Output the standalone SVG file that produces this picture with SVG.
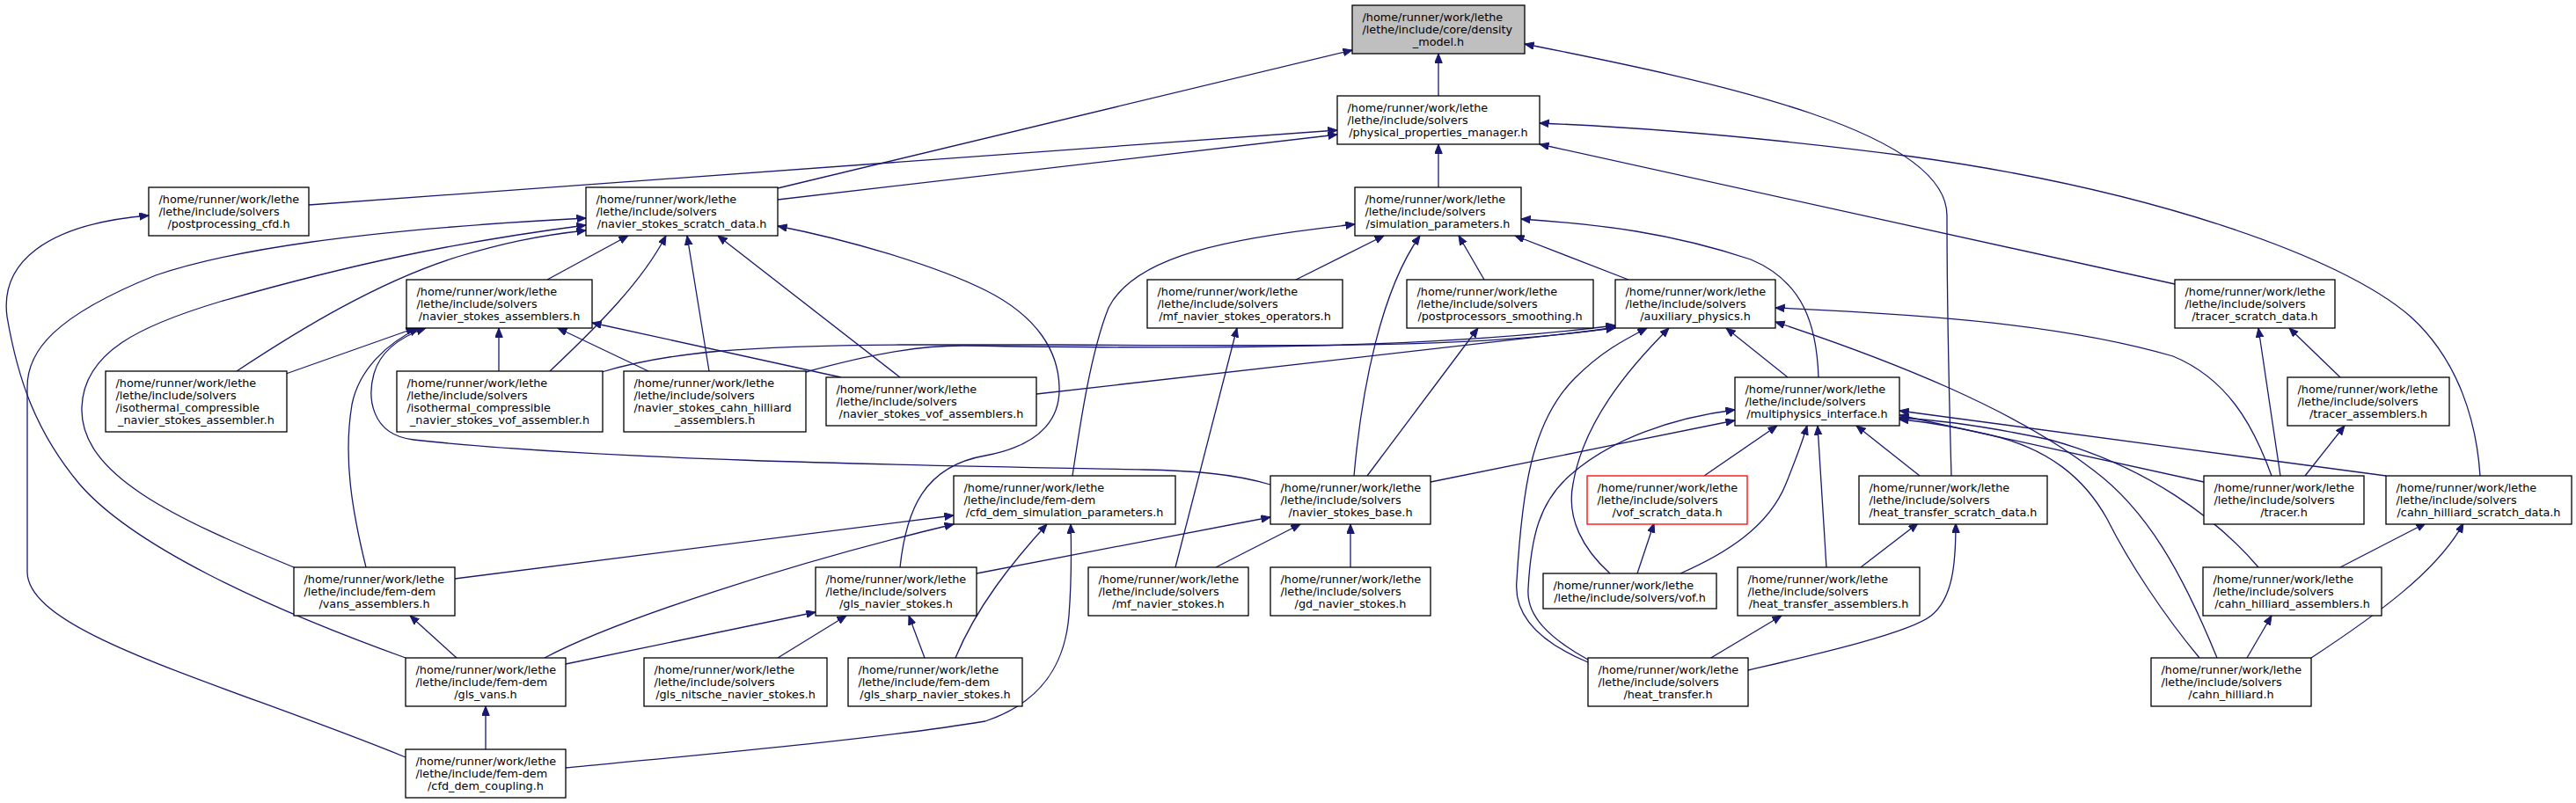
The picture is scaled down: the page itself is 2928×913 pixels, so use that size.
<svg xmlns="http://www.w3.org/2000/svg" width="2928" height="913" viewBox="0 0 2928 913">
<defs>
<style>
.n rect{fill:#fff;stroke:#000;stroke-width:1.3}
.n.root rect{fill:#bfbfbf}
.n.red rect{stroke:#ff0000}
.e path{fill:none;stroke:#191970;stroke-width:1.3;marker-end:url(#a)}
text{font-family:"DejaVu Sans","Liberation Sans",sans-serif;font-size:12.8px;fill:#000}
.c{text-anchor:middle}
</style>
<marker id="a" markerWidth="12" markerHeight="10" refX="10.5" refY="4.25" orient="auto" markerUnits="userSpaceOnUse"><path d="M0,0 L10.5,4.25 L0,8.5 z" fill="#191970" stroke="#191970" stroke-width="1"/></marker>
</defs>
<rect width="2928" height="913" fill="#fff"/>
<g id="edges" class="e">
<path d="M1635,109 L1635,61"/>
<path d="M884,214 L1537,57"/>
<path d="M2218,541 C2216,470 2213,320 2213,245 C2213,150 1960,95 1733,50"/>
<path d="M1635,213 L1635,164"/>
<path d="M351,233 L1520,148"/>
<path d="M884,227 L1520,153"/>
<path d="M2472,323 L1750,164"/>
<path d="M2819,541 C2815,480 2795,410 2740,360 C2660,290 2440,215 2173,178 C2050,162 1900,146 1750,140"/>
<path d="M461,861 C250,775 31,720 31,650 L31,440 C31,400 60,360 177,313 C260,285 400,262 666,248"/>
<path d="M461,748 C300,690 150,620 90,550 C40,490 20,430 8,360 C0,300 50,255 169,245"/>
<path d="M334,645 C200,590 90,540 93,463 C95,400 160,370 250,343 C400,300 520,275 666,256"/>
<path d="M269,422 C340,375 430,320 520,292 C570,277 610,268 666,262"/>
<path d="M622,318 L714,268"/>
<path d="M625,422 C680,370 730,320 757,268"/>
<path d="M806,422 L781,268"/>
<path d="M1023,429 L816,268"/>
<path d="M1023,645 C1030,580 1050,530 1120,518 C1190,505 1205,470 1204,440 C1203,400 1180,360 1120,330 C1060,300 960,272 884,257"/>
<path d="M1444,551 C1400,538 1350,535 1300,534 C1100,530 700,525 470,500 C420,494 418,450 425,425 C432,400 455,383 484,373"/>
<path d="M416,645 C400,580 390,520 400,460 C408,420 440,390 476,373"/>
<path d="M325,425 L472,373"/>
<path d="M567,422 L567,373"/>
<path d="M737,422 L634,373"/>
<path d="M956,429 L673,367"/>
<path d="M684,423 C760,400 850,393 1023,392 L1201,392 C1500,394 1700,395 1836,372"/>
<path d="M916,423 C1000,400 1050,393 1094,393 C1300,396 1600,400 1836,370"/>
<path d="M1178,448 L1836,373"/>
<path d="M1219,541 C1228,480 1240,400 1260,350 C1290,290 1400,270 1540,255"/>
<path d="M1473,318 L1573,268"/>
<path d="M1539,541 C1548,440 1570,330 1614,268"/>
<path d="M1687,318 L1658,268"/>
<path d="M1851,318 L1722,268"/>
<path d="M2067,429 C2065,370 2050,320 1990,295 C1900,265 1820,255 1729,249"/>
<path d="M1336,645 L1406,373"/>
<path d="M1554,541 L1680,373"/>
<path d="M2032,429 L1962,373"/>
<path d="M1805,753 C1750,730 1720,700 1724,660 C1730,560 1740,480 1790,430 C1820,400 1845,387 1872,373"/>
<path d="M1830,652 C1800,625 1780,590 1788,550 C1800,480 1850,420 1897,373"/>
<path d="M1805,750 C1760,725 1735,700 1737,670 C1740,610 1750,570 1785,540 C1830,500 1900,475 1972,466"/>
<path d="M1626,548 L1972,478"/>
<path d="M1937,541 L2020,484"/>
<path d="M1910,652 C1960,630 2010,600 2030,550 C2040,525 2048,505 2054,484"/>
<path d="M2076,645 L2066,484"/>
<path d="M2182,541 L2110,484"/>
<path d="M2712,541 L2159,467"/>
<path d="M2505,548 L2159,472"/>
<path d="M2567,645 C2520,590 2440,530 2330,500 C2260,485 2210,478 2159,475"/>
<path d="M2500,748 C2460,700 2420,640 2395,590 C2370,545 2330,510 2260,494 C2220,485 2190,479 2159,477"/>
<path d="M2520,748 C2480,650 2440,580 2380,535 C2290,465 2150,410 2018,366"/>
<path d="M2582,541 C2560,480 2530,430 2470,405 C2350,370 2200,358 2018,350"/>
<path d="M2592,541 L2567,373"/>
<path d="M2660,429 L2602,373"/>
<path d="M2620,541 L2665,484"/>
<path d="M2115,645 L2180,595"/>
<path d="M1987,762 C2060,745 2170,720 2195,700 C2220,680 2223,640 2223,595"/>
<path d="M1943,749 L2025,700"/>
<path d="M1861,652 L1880,595"/>
<path d="M2660,645 L2757,595"/>
<path d="M2627,748 C2700,700 2770,650 2800,595"/>
<path d="M2554,748 L2582,700"/>
<path d="M519,748 L466,700"/>
<path d="M619,748 C700,705 900,640 1084,596"/>
<path d="M643,755 L927,696"/>
<path d="M552,852 L552,803"/>
<path d="M643,873 C800,858 1000,840 1120,820 C1180,800 1210,760 1215,700 C1218,660 1218,630 1217,596"/>
<path d="M517,658 L1084,586"/>
<path d="M1086,748 C1110,690 1150,640 1190,596"/>
<path d="M1051,748 L1033,700"/>
<path d="M884,748 L962,700"/>
<path d="M1110,652 L1444,588"/>
<path d="M1382,645 L1478,596"/>
<path d="M1535,645 L1535,596"/>
</g>
<g id="density_model" class="n root"><rect x="1537" y="6" width="196" height="55"/><text x="1548.5" y="24">/home/runner/work/lethe</text><text x="1548.5" y="38">/lethe/include/core/density</text><text class="c" x="1635" y="52">_model.h</text></g>
<g id="physical_properties_manager" class="n"><rect x="1520" y="109" width="230" height="55"/><text x="1531.5" y="127">/home/runner/work/lethe</text><text x="1531.5" y="141">/lethe/include/solvers</text><text class="c" x="1635" y="155">/physical_properties_manager.h</text></g>
<g id="simulation_parameters" class="n"><rect x="1540" y="213" width="189" height="55"/><text x="1551.5" y="231">/home/runner/work/lethe</text><text x="1551.5" y="245">/lethe/include/solvers</text><text class="c" x="1634.5" y="259">/simulation_parameters.h</text></g>
<g id="postprocessing_cfd" class="n"><rect x="169" y="213" width="182" height="55"/><text x="180.5" y="231">/home/runner/work/lethe</text><text x="180.5" y="245">/lethe/include/solvers</text><text class="c" x="260" y="259">/postprocessing_cfd.h</text></g>
<g id="navier_stokes_scratch_data" class="n"><rect x="666" y="213" width="218" height="55"/><text x="677.5" y="231">/home/runner/work/lethe</text><text x="677.5" y="245">/lethe/include/solvers</text><text class="c" x="775" y="259">/navier_stokes_scratch_data.h</text></g>
<g id="navier_stokes_assemblers" class="n"><rect x="462" y="318" width="211" height="55"/><text x="473.5" y="336">/home/runner/work/lethe</text><text x="473.5" y="350">/lethe/include/solvers</text><text class="c" x="567.5" y="364">/navier_stokes_assemblers.h</text></g>
<g id="mf_navier_stokes_operators" class="n"><rect x="1304" y="318" width="222" height="55"/><text x="1315.5" y="336">/home/runner/work/lethe</text><text x="1315.5" y="350">/lethe/include/solvers</text><text class="c" x="1415" y="364">/mf_navier_stokes_operators.h</text></g>
<g id="postprocessors_smoothing" class="n"><rect x="1599" y="318" width="212" height="55"/><text x="1610.5" y="336">/home/runner/work/lethe</text><text x="1610.5" y="350">/lethe/include/solvers</text><text class="c" x="1705" y="364">/postprocessors_smoothing.h</text></g>
<g id="auxiliary_physics" class="n"><rect x="1836" y="318" width="182" height="55"/><text x="1847.5" y="336">/home/runner/work/lethe</text><text x="1847.5" y="350">/lethe/include/solvers</text><text class="c" x="1927" y="364">/auxiliary_physics.h</text></g>
<g id="tracer_scratch_data" class="n"><rect x="2472" y="318" width="182" height="55"/><text x="2483.5" y="336">/home/runner/work/lethe</text><text x="2483.5" y="350">/lethe/include/solvers</text><text class="c" x="2563" y="364">/tracer_scratch_data.h</text></g>
<g id="isothermal_compressible_navier_stokes_assembler" class="n"><rect x="120" y="422" width="206" height="69"/><text x="131.5" y="440">/home/runner/work/lethe</text><text x="131.5" y="454">/lethe/include/solvers</text><text x="131.5" y="468">/isothermal_compressible</text><text class="c" x="223" y="482">_navier_stokes_assembler.h</text></g>
<g id="isothermal_compressible_navier_stokes_vof_assembler" class="n"><rect x="451" y="422" width="234" height="69"/><text x="462.5" y="440">/home/runner/work/lethe</text><text x="462.5" y="454">/lethe/include/solvers</text><text x="462.5" y="468">/isothermal_compressible</text><text class="c" x="568" y="482">_navier_stokes_vof_assembler.h</text></g>
<g id="navier_stokes_cahn_hilliard_assemblers" class="n"><rect x="709" y="422" width="207" height="69"/><text x="720.5" y="440">/home/runner/work/lethe</text><text x="720.5" y="454">/lethe/include/solvers</text><text x="720.5" y="468">/navier_stokes_cahn_hilliard</text><text class="c" x="812.5" y="482">_assemblers.h</text></g>
<g id="navier_stokes_vof_assemblers" class="n"><rect x="939" y="429" width="239" height="55"/><text x="950.5" y="447">/home/runner/work/lethe</text><text x="950.5" y="461">/lethe/include/solvers</text><text class="c" x="1058.5" y="475">/navier_stokes_vof_assemblers.h</text></g>
<g id="multiphysics_interface" class="n"><rect x="1972" y="429" width="187" height="55"/><text x="1983.5" y="447">/home/runner/work/lethe</text><text x="1983.5" y="461">/lethe/include/solvers</text><text class="c" x="2065.5" y="475">/multiphysics_interface.h</text></g>
<g id="tracer_assemblers" class="n"><rect x="2600" y="429" width="184" height="55"/><text x="2611.5" y="447">/home/runner/work/lethe</text><text x="2611.5" y="461">/lethe/include/solvers</text><text class="c" x="2692" y="475">/tracer_assemblers.h</text></g>
<g id="cfd_dem_simulation_parameters" class="n"><rect x="1084" y="541" width="252" height="55"/><text x="1095.5" y="559">/home/runner/work/lethe</text><text x="1095.5" y="573">/lethe/include/fem-dem</text><text class="c" x="1210" y="587">/cfd_dem_simulation_parameters.h</text></g>
<g id="navier_stokes_base" class="n"><rect x="1444" y="541" width="182" height="55"/><text x="1455.5" y="559">/home/runner/work/lethe</text><text x="1455.5" y="573">/lethe/include/solvers</text><text class="c" x="1535" y="587">/navier_stokes_base.h</text></g>
<g id="vof_scratch_data" class="n red"><rect x="1804" y="541" width="182" height="55"/><text x="1815.5" y="559">/home/runner/work/lethe</text><text x="1815.5" y="573">/lethe/include/solvers</text><text class="c" x="1895" y="587">/vof_scratch_data.h</text></g>
<g id="heat_transfer_scratch_data" class="n"><rect x="2113" y="541" width="214" height="55"/><text x="2124.5" y="559">/home/runner/work/lethe</text><text x="2124.5" y="573">/lethe/include/solvers</text><text class="c" x="2220" y="587">/heat_transfer_scratch_data.h</text></g>
<g id="tracer" class="n"><rect x="2505" y="541" width="182" height="55"/><text x="2516.5" y="559">/home/runner/work/lethe</text><text x="2516.5" y="573">/lethe/include/solvers</text><text class="c" x="2596" y="587">/tracer.h</text></g>
<g id="cahn_hilliard_scratch_data" class="n"><rect x="2712" y="541" width="211" height="55"/><text x="2723.5" y="559">/home/runner/work/lethe</text><text x="2723.5" y="573">/lethe/include/solvers</text><text class="c" x="2817.5" y="587">/cahn_hilliard_scratch_data.h</text></g>
<g id="vans_assemblers" class="n"><rect x="334" y="645" width="183" height="55"/><text x="345.5" y="663">/home/runner/work/lethe</text><text x="345.5" y="677">/lethe/include/fem-dem</text><text class="c" x="425.5" y="691">/vans_assemblers.h</text></g>
<g id="gls_navier_stokes" class="n"><rect x="927" y="645" width="183" height="55"/><text x="938.5" y="663">/home/runner/work/lethe</text><text x="938.5" y="677">/lethe/include/solvers</text><text class="c" x="1018.5" y="691">/gls_navier_stokes.h</text></g>
<g id="mf_navier_stokes" class="n"><rect x="1237" y="645" width="182" height="55"/><text x="1248.5" y="663">/home/runner/work/lethe</text><text x="1248.5" y="677">/lethe/include/solvers</text><text class="c" x="1328" y="691">/mf_navier_stokes.h</text></g>
<g id="gd_navier_stokes" class="n"><rect x="1444" y="645" width="182" height="55"/><text x="1455.5" y="663">/home/runner/work/lethe</text><text x="1455.5" y="677">/lethe/include/solvers</text><text class="c" x="1535" y="691">/gd_navier_stokes.h</text></g>
<g id="vof" class="n"><rect x="1754" y="652" width="197" height="40"/><text x="1765.5" y="669.5">/home/runner/work/lethe</text><text class="c" x="1852.5" y="683.5">/lethe/include/solvers/vof.h</text></g>
<g id="heat_transfer_assemblers" class="n"><rect x="1975" y="645" width="207" height="55"/><text x="1986.5" y="663">/home/runner/work/lethe</text><text x="1986.5" y="677">/lethe/include/solvers</text><text class="c" x="2078.5" y="691">/heat_transfer_assemblers.h</text></g>
<g id="cahn_hilliard_assemblers" class="n"><rect x="2504" y="645" width="203" height="55"/><text x="2515.5" y="663">/home/runner/work/lethe</text><text x="2515.5" y="677">/lethe/include/solvers</text><text class="c" x="2605.5" y="691">/cahn_hilliard_assemblers.h</text></g>
<g id="gls_vans" class="n"><rect x="461" y="748" width="182" height="55"/><text x="472.5" y="766">/home/runner/work/lethe</text><text x="472.5" y="780">/lethe/include/fem-dem</text><text class="c" x="552" y="794">/gls_vans.h</text></g>
<g id="gls_nitsche_navier_stokes" class="n"><rect x="732" y="748" width="208" height="55"/><text x="743.5" y="766">/home/runner/work/lethe</text><text x="743.5" y="780">/lethe/include/solvers</text><text class="c" x="836" y="794">/gls_nitsche_navier_stokes.h</text></g>
<g id="gls_sharp_navier_stokes" class="n"><rect x="964" y="748" width="198" height="55"/><text x="975.5" y="766">/home/runner/work/lethe</text><text x="975.5" y="780">/lethe/include/fem-dem</text><text class="c" x="1063" y="794">/gls_sharp_navier_stokes.h</text></g>
<g id="heat_transfer" class="n"><rect x="1805" y="748" width="182" height="55"/><text x="1816.5" y="766">/home/runner/work/lethe</text><text x="1816.5" y="780">/lethe/include/solvers</text><text class="c" x="1896" y="794">/heat_transfer.h</text></g>
<g id="cahn_hilliard" class="n"><rect x="2445" y="748" width="182" height="55"/><text x="2456.5" y="766">/home/runner/work/lethe</text><text x="2456.5" y="780">/lethe/include/solvers</text><text class="c" x="2536" y="794">/cahn_hilliard.h</text></g>
<g id="cfd_dem_coupling" class="n"><rect x="461" y="852" width="182" height="55"/><text x="472.5" y="870">/home/runner/work/lethe</text><text x="472.5" y="884">/lethe/include/fem-dem</text><text class="c" x="552" y="898">/cfd_dem_coupling.h</text></g>
</svg>
